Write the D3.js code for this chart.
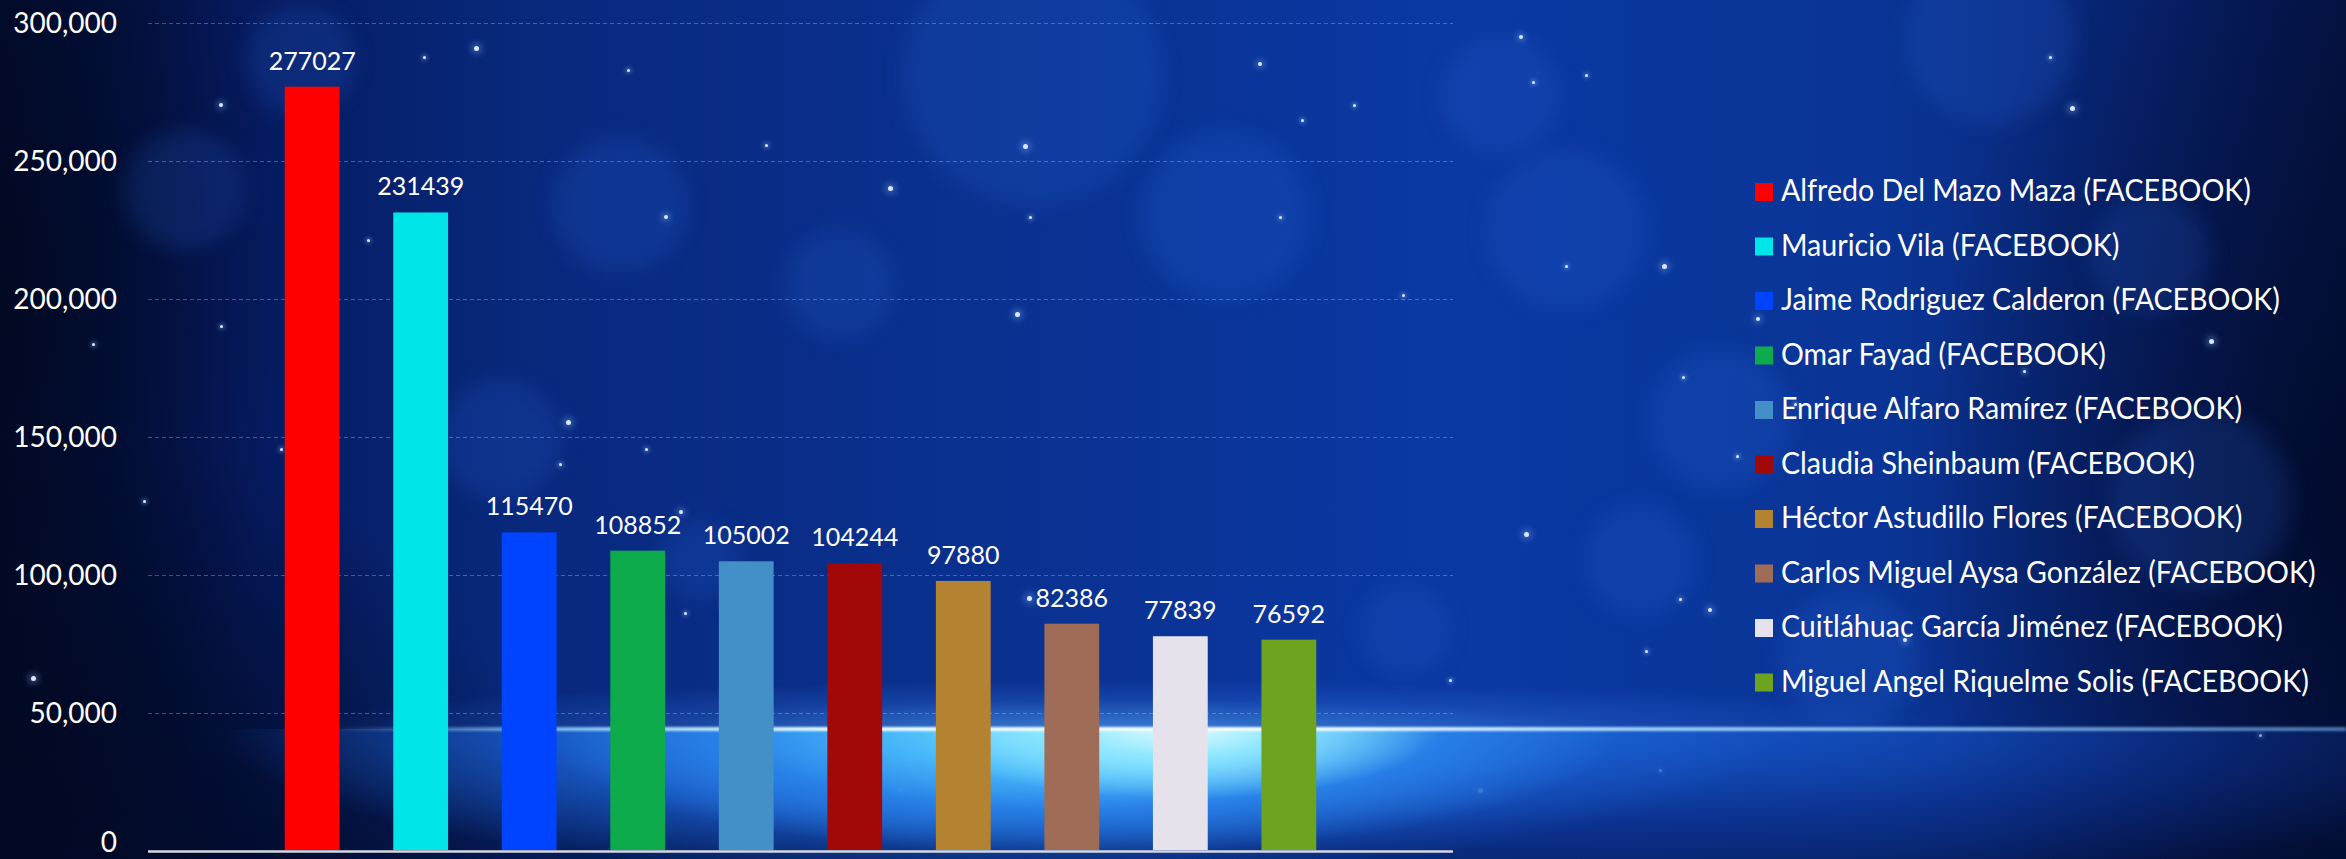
<!DOCTYPE html>
<html>
<head>
<meta charset="utf-8">
<script src="https://cdn.jsdelivr.net/npm/d3@7/dist/d3.min.js"></script>
<style>
  html, body { margin: 0; padding: 0; width: 2346px; height: 859px; overflow: hidden; background: #041545; }
  #wrap { position: relative; width: 2346px; height: 859px; overflow: hidden; }
  #bg { position: absolute; left: 0; top: 0; width: 2346px; height: 859px;
    background:
      radial-gradient(ellipse 560px 440px at 0px 859px, rgba(1,8,32,0.95), rgba(1,8,32,0.6) 50%, rgba(1,8,32,0) 100%),
      radial-gradient(ellipse 280px 650px at 0px 300px, rgba(1,8,32,0.85), rgba(1,8,32,0) 100%),
      radial-gradient(ellipse 420px 700px at 2346px 500px, rgba(2,10,40,0.85), rgba(2,10,40,0) 100%),
      linear-gradient(90deg, #020c2e 0%, #05185a 9%, #08287c 22%, #0a3190 42%, #0b38a2 62%, #0a3596 80%, #072270 92%, #041448 100%);
  }
  .bokeh { position: absolute; border-radius: 50%; background: rgba(45,110,230,0.17); filter: blur(10px); }
  .star { position: absolute; border-radius: 50%; background: #dce8ff; }
  #ground { position: absolute; left: 0; top: 729px; width: 2346px; height: 130px;
    background:
      radial-gradient(ellipse 260px 70px at 1180px 0px, rgba(225,252,255,1) 0%, rgba(150,235,255,0.9) 40%, rgba(100,210,255,0) 100%),
      radial-gradient(ellipse 540px 125px at 1080px 0px, rgba(120,225,255,1) 0%, rgba(75,190,252,0.92) 35%, rgba(45,140,240,0.72) 65%, rgba(40,130,240,0) 100%),
      radial-gradient(ellipse 780px 150px at 1000px 0px, rgba(40,140,240,0.95) 0%, rgba(30,105,220,0.75) 55%, rgba(20,70,180,0) 100%),
      radial-gradient(ellipse 1100px 160px at 1550px 0px, rgba(25,95,210,0.85) 0%, rgba(15,60,170,0.45) 60%, rgba(10,40,140,0) 100%),
      linear-gradient(180deg, rgba(2,10,40,0) 0%, rgba(2,10,40,0.45) 100%);
  }
  #haze { position: absolute; left: 300px; top: 680px; width: 2046px; height: 50px;
    background: radial-gradient(ellipse 850px 50px at 820px 50px, rgba(90,175,255,0.6), rgba(60,130,240,0.22) 60%, rgba(40,100,220,0) 100%);
  }
  #horizon { position: absolute; left: 330px; top: 727px; width: 2016px; height: 4px; filter: blur(1px);
    background: linear-gradient(90deg, rgba(120,200,255,0) 0%, rgba(160,225,255,0.75) 12%, rgba(235,252,255,1) 25%, rgba(245,253,255,1) 48%, rgba(180,230,255,0.85) 65%, rgba(120,190,255,0.55) 100%);
  }
  svg { position: absolute; left: 0; top: 0; }
</style>
</head>
<body>
<div id="wrap">
  <div id="bg"></div>
  <div id="haze"></div>
  <div id="ground"></div>
  <div id="horizon"></div>
</div>
<script>
// ---- chart data ----
const categories = [
  "Alfredo Del Mazo Maza (FACEBOOK)",
  "Mauricio Vila (FACEBOOK)",
  "Jaime Rodriguez Calderon (FACEBOOK)",
  "Omar Fayad (FACEBOOK)",
  "Enrique Alfaro Ramírez (FACEBOOK)",
  "Claudia Sheinbaum (FACEBOOK)",
  "Héctor Astudillo Flores (FACEBOOK)",
  "Carlos Miguel Aysa González (FACEBOOK)",
  "Cuitláhuac García Jiménez (FACEBOOK)",
  "Miguel Angel Riquelme Solis (FACEBOOK)"
];
const values = [277027, 231439, 115470, 108852, 105002, 104244, 97880, 82386, 77839, 76592];
const colors = ["#FF0000", "#00E5E8", "#0044FF", "#0EAB4C", "#4390C8", "#A10808", "#B38332", "#9E6C57", "#E5E2EC", "#6CA420"];
const yTicks = [0, 50000, 100000, 150000, 200000, 250000, 300000];

// ---- decorative background (not data) ----
const bgBokeh = [
  [1032, 75, 130], [620, 205, 68], [185, 190, 60], [1225, 215, 85], [1565, 230, 80],
  [1990, 40, 85], [1500, 95, 60], [1406, 630, 45], [1720, 420, 70], [1640, 560, 55],
  [500, 440, 60], [840, 285, 55], [2200, 500, 90], [2150, 255, 60], [700, 560, 40],
  [1850, 660, 70], [300, 60, 55]
];
const bgStars = [
  [476, 48, 2.5], [424, 57, 1.5], [221, 105, 2], [628, 70, 1.5], [1025, 146, 2.5], [1260, 64, 2],
  [1302, 120, 1.5], [1354, 105, 1.5], [1521, 37, 2], [1533, 82, 1.5], [1586, 75, 1.5], [2072, 108, 2.5],
  [2050, 57, 1.5], [890, 188, 2.5], [766, 145, 1.5], [1030, 217, 1.5], [666, 217, 2], [368, 240, 1.5],
  [221, 326, 1.5], [1017, 314, 2.5], [1403, 295, 1.5], [1280, 217, 1.5], [1664, 266, 2.5], [1566, 266, 1.5],
  [1683, 377, 1.5], [1758, 319, 2], [2211, 341, 2.5], [1737, 456, 1.5], [2024, 371, 1.5], [1795, 404, 1.5],
  [568, 422, 2.5], [560, 464, 1.5], [646, 449, 1.5], [681, 512, 2], [685, 613, 1.5], [621, 597, 1.5],
  [1029, 598, 2.5], [838, 598, 1.5], [1526, 534, 2.5], [1710, 610, 2], [1680, 599, 1.5], [1646, 651, 1.5],
  [33, 678, 2.5], [144, 501, 1.5], [281, 449, 1.5], [93, 344, 1.5], [1480, 790, 2.5], [1660, 770, 1.5],
  [900, 790, 2], [1450, 680, 1.5], [1905, 640, 2], [2260, 735, 1.5]
];
const wrap = d3.select("#wrap");
bgBokeh.forEach(([x, y, r]) => {
  wrap.insert("div", "#haze").attr("class", "bokeh")
    .style("left", (x - r) + "px").style("top", (y - r) + "px")
    .style("width", 2 * r + "px").style("height", 2 * r + "px");
});
bgStars.forEach(([x, y, r]) => {
  wrap.insert("div", "#haze").attr("class", "star")
    .style("left", (x - r) + "px").style("top", (y - r) + "px")
    .style("width", 2 * r + "px").style("height", 2 * r + "px")
    .style("box-shadow", `0 0 ${r * 3}px ${r}px rgba(140,190,255,0.45)`);
});

// ---- chart ----
const W = 2346, H = 859;
const svg = wrap.append("svg").attr("width", W).attr("height", H);
const FONT = "Lato, 'Open Sans', sans-serif";

const x = d3.scaleBand().domain(categories).range([148, 1453]).paddingInner(0.495).paddingOuter(1.26);
const y = d3.scaleLinear().domain([0, 300000]).range([851, 23.3]);

// gridlines
svg.append("g").selectAll("line").data(yTicks.filter(d => d > 0)).join("line")
  .attr("x1", 148).attr("x2", 1453)
  .attr("y1", d => Math.round(y(d)) + 0.5).attr("y2", d => Math.round(y(d)) + 0.5)
  .attr("stroke", "rgba(190,205,240,0.35)").attr("stroke-width", 1)
  .attr("stroke-dasharray", "4,3");

// y axis labels
const yAxis = d3.axisLeft(y).tickValues(yTicks).tickFormat(d3.format(",")).tickSize(0).tickPadding(31);
const gy = svg.append("g").attr("transform", "translate(148,0)").call(yAxis);
gy.select(".domain").remove();
gy.selectAll("text").attr("fill", "#ffffff").attr("font-family", FONT).attr("font-size", 28)
  .attr("dy", null).attr("dominant-baseline", "alphabetical")
  .attr("y", d => Math.min(9, H - 8 - y(d)));

// bars
svg.append("g").selectAll("rect").data(values).join("rect")
  .attr("x", (d, i) => x(categories[i]))
  .attr("width", x.bandwidth())
  .attr("y", d => y(d))
  .attr("height", d => y(0) - y(d) - 1)
  .attr("fill", (d, i) => colors[i]);

// value labels
svg.append("g").selectAll("text").data(values).join("text")
  .attr("x", (d, i) => x(categories[i]) + x.bandwidth() / 2)
  .attr("y", d => y(d) - 17)
  .attr("text-anchor", "middle")
  .attr("fill", "#ffffff").attr("font-family", FONT).attr("font-size", 25)
  .text(d => String(d));

// baseline
svg.append("line").attr("x1", 148).attr("x2", 1453)
  .attr("y1", y(0) + 0.5).attr("y2", y(0) + 0.5)
  .attr("stroke", "#d6d8e0").attr("stroke-width", 2.5);

// legend
const lg = svg.append("g").selectAll("g").data(categories).join("g")
  .attr("transform", (d, i) => `translate(1755,${192 + i * 54.5})`);
lg.append("rect").attr("x", 0).attr("y", -9).attr("width", 18).attr("height", 18)
  .attr("fill", (d, i) => colors[i]);
const lt = lg.append("text").attr("fill", "#ffffff").attr("font-family", FONT).attr("font-size", 30)
  .text(d => d);
const w0 = lt.node().getComputedTextLength();
const k = Math.min(1, 470 / w0);
lt.attr("transform", `translate(26,9) scale(${k},1)`);
</script>
</body>
</html>
